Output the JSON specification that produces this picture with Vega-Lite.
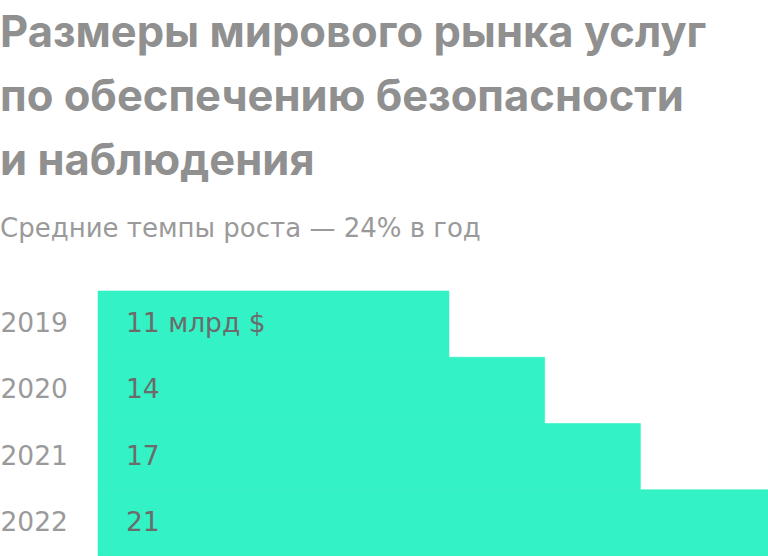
{
  "$schema": "https://vega.github.io/schema/vega-lite/v6.json",
  "width": 670,
  "height": 265,
  "padding": {"left": 0, "top": 12, "right": 0, "bottom": 0},
  "background": "white",
  "title": {
    "text": ["Размеры мирового рынка услуг", "по обеспечению безопасности", "и наблюдения"],
    "subtitle": "Средние темпы роста — 24% в год",
    "anchor": "start",
    "frame": "bounds",
    "font": "Inter",
    "fontSize": 43.5,
    "fontWeight": "bold",
    "lineHeight": 64,
    "color": "#909090",
    "subtitleFont": "DejaVu Sans",
    "subtitleFontSize": 26,
    "subtitleColor": "#9a9a9a",
    "subtitlePadding": 31,
    "offset": 48
  },
  "data": {
    "values": [
      {"year": "2019", "value": 11, "label": "11 млрд $"},
      {"year": "2020", "value": 14, "label": "14"},
      {"year": "2021", "value": 17, "label": "17"},
      {"year": "2022", "value": 21, "label": "21"}
    ]
  },
  "encoding": {
    "y": {
      "field": "year",
      "type": "nominal",
      "sort": null,
      "scale": {"paddingInner": 0, "paddingOuter": 0},
      "axis": {
        "title": null,
        "domain": false,
        "ticks": false,
        "labelAlign": "left",
        "labelPadding": 98,
        "labelFont": "DejaVu Sans",
        "labelFontSize": 26.5,
        "labelColor": "#9a9a9a"
      }
    }
  },
  "layer": [
    {
      "mark": {"type": "bar", "color": "#33F2C5", "stroke": "#33F2C5", "strokeWidth": 0.6},
      "encoding": {
        "x": {"field": "value", "type": "quantitative", "scale": {"domain": [0, 21], "nice": false}, "axis": null}
      }
    },
    {
      "mark": {"type": "text", "align": "left", "dx": 28, "font": "DejaVu Sans", "fontSize": 26.5, "color": "#6b6b6b"},
      "encoding": {
        "x": {"datum": 0, "type": "quantitative"},
        "text": {"field": "label"}
      }
    }
  ],
  "config": {"view": {"stroke": null}}
}
